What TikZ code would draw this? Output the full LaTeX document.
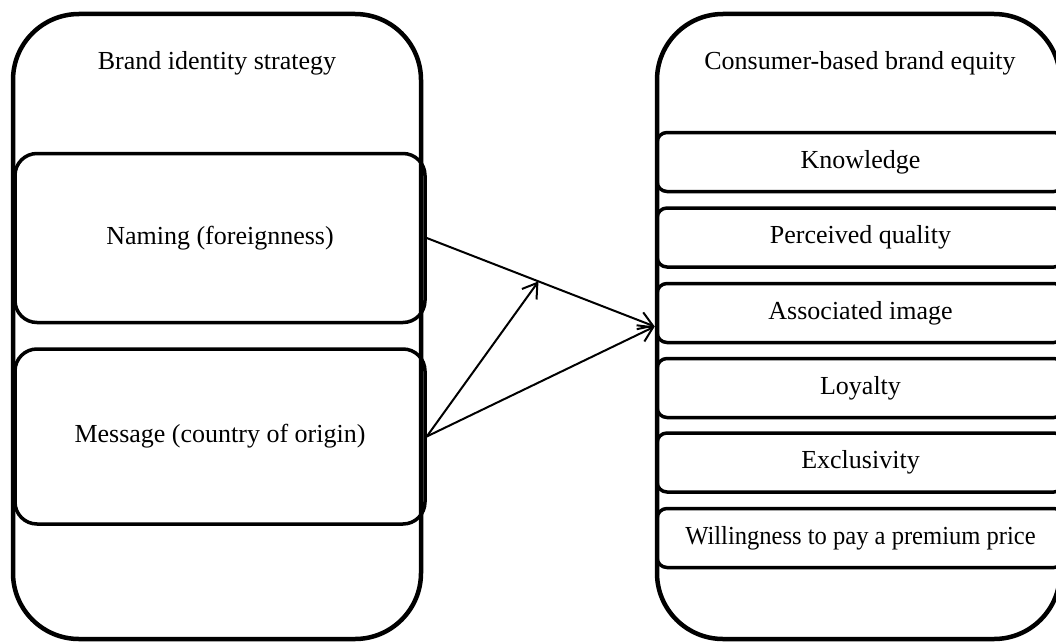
\documentclass[tikz,border=0pt]{standalone}
\usepackage{fontspec}
\setmainfont{Liberation Serif}
\usetikzlibrary{arrows.meta,calc}
\begin{document}
\begin{tikzpicture}[x=1pt,y=-1pt,
  outerbox/.style={draw,line width=4.5pt,rounded corners=66pt,minimum width=#1,minimum height=625pt,inner sep=0pt},
  leftitem/.style={draw,line width=3.5pt,rounded corners=22pt,minimum width=410pt,inner sep=0pt},
  rightitem/.style={draw,line width=3.5pt,rounded corners=10pt,minimum width=407pt,minimum height=59pt,inner sep=0pt},
  title/.style={inner sep=0pt},
  conn/.style={line width=2pt,-{Straight Barb[length=14pt,width=18pt,line width=2pt]}},
  every node/.append style={font=\fontsize{26}{31}\selectfont}]
\useasboundingbox (0,0) rectangle (1056,642);
\clip (0,0) rectangle (1056,642);
% outer boxes
\node[outerbox=408pt] (lo) at (217,326.5) {};
\node[outerbox=403pt] (ro) at (858.5,326.5) {};
\node[title] (lt) at (217,63) {Brand identity strategy};
\node[title] (rt) at (860,63) {Consumer-based brand equity};
% left items
\node[leftitem,minimum height=169pt] (naming) at (220,238) {Naming (foreignness)};
\node[leftitem,minimum height=175pt] (message) at (220,436.5) {Message (country of origin)};
% right items
\node[rightitem] (k) at (860.5,162) {Knowledge};
\node[rightitem] (pq) at (860.5,237.5) {Perceived quality};
\node[rightitem] (ai) at (860.5,313) {Associated image};
\node[rightitem] (ly) at (860.5,388) {Loyalty};
\node[rightitem] (ex) at (860.5,462.5) {Exclusivity};
\node[rightitem] (wp) at (860.5,538) {\scalebox{0.945}[1]{Willingness to pay a premium price}};
% connectors
\coordinate (mid) at ($(naming.east)!0.49!(ro.west)$);
\draw[conn] (naming.east) -- (ro.west);
\draw[conn] (message.east) -- (ro.west);
\draw[conn] (message.east) -- (mid);
\end{tikzpicture}
\end{document}
